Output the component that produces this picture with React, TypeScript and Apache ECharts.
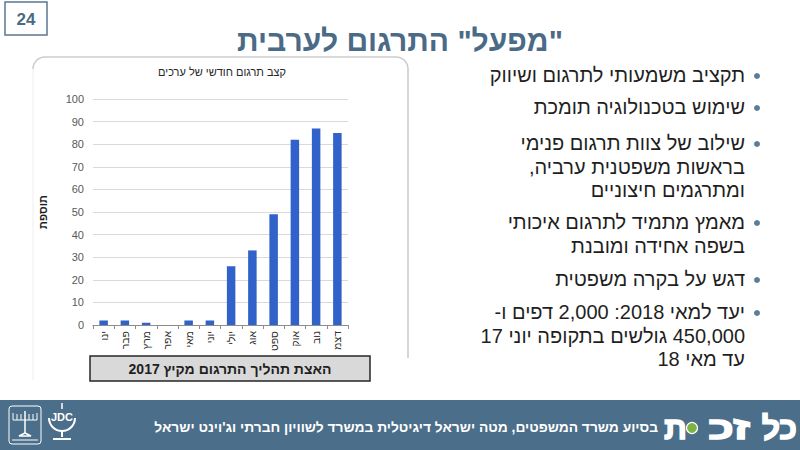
import React, { useEffect, useRef } from 'react';
import * as echarts from 'echarts';

const months = ['ינו', 'פבר', 'מרץ', 'אפר', 'מאי', 'יוני', 'יולי', 'אוג', 'ספט', 'אוק', 'נוב', 'דצמ'];
const translatedValues = [2, 2, 1, 0, 2, 2, 26, 33, 49, 82, 87, 85];
const yTicks = { min: 0, max: 100, interval: 10 };

const slideTitle = '"מפעל" התרגום לערבית';
const chartTitle = 'קצב תרגום חודשי של ערכים';
const yAxisName = 'תוספת';
const captionText = 'האצת תהליך התרגום מקיץ 2017';
const pageNumber = '24';
const bullets: string[][] = [
  ['תקציב משמעותי לתרגום ושיווק'],
  ['שימוש בטכנולוגיה תומכת'],
  ['שילוב של צוות תרגום פנימי', 'בראשות משפטנית ערביה,', 'ומתרגמים חיצוניים'],
  ['מאמץ מתמיד לתרגום איכותי', 'בשפה אחידה ומובנת'],
  ['דגש על בקרה משפטית'],
  ['יעד למאי 2018: 2,000 דפים ו-', '450,000 גולשים בתקופה יוני 17', 'עד מאי 18'],
];
const footerText = "בסיוע משרד המשפטים, מטה ישראל דיגיטלית במשרד לשוויון חברתי וג'וינט ישראל";
const logoWords = ['כל', 'זכ', 'ת'];

const FONT = "'Liberation Sans', Arial, sans-serif";
const SLATE = '#4a6a85';
const rtl = (s: string) => '\u202B' + s + '\u202C';

export default function App() {
  const ref = useRef<HTMLDivElement>(null);
  useEffect(() => {
    if (!ref.current) return;
    const chart = echarts.init(ref.current, undefined, { renderer: 'svg' });

    const bulletTops = [75, 107, 143, 222, 279, 312];
    const lineH = 23.5;
    const bulletGraphics: any[] = [];
    bullets.forEach((lines, i) => {
      bulletGraphics.push({
        type: 'circle',
        shape: { cx: 757, cy: bulletTops[i] + 1, r: 3 },
        style: { fill: '#5b7d99' },
      });
      lines.forEach((ln, j) => {
        bulletGraphics.push({
          type: 'text',
          x: 745,
          y: bulletTops[i] + j * lineH,
          style: {
            text: rtl(ln),
            align: 'right',
            verticalAlign: 'middle',
            fontSize: 20,
            fontFamily: FONT,
            fill: '#1f1f1f',
          },
        });
      });
    });

    const white = { fill: 'none', stroke: '#ffffff', lineWidth: 1 };
    const frame = { fill: 'none', stroke: '#cccccc', lineWidth: 1.6 };
    const logoStyle = {
      align: 'right',
      verticalAlign: 'middle',
      fontSize: 32,
      fontWeight: 'bold',
      fill: '#ffffff',
      stroke: '#ffffff',
      lineWidth: 1.4,
      fontFamily: FONT,
    };

    chart.setOption({
      animation: false,
      backgroundColor: '#ffffff',
      textStyle: { fontFamily: FONT },
      grid: { left: 93, top: 99, width: 255, height: 226, containLabel: false },
      xAxis: {
        type: 'category',
        data: months,
        axisLine: { lineStyle: { color: '#8c8c8c', width: 1 } },
        axisTick: { show: true, alignWithLabel: false, length: 4, lineStyle: { color: '#8c8c8c' } },
        axisLabel: { rotate: 90, fontSize: 10.5, color: '#333333', margin: 6, interval: 0, fontFamily: FONT },
      },
      yAxis: {
        type: 'value',
        min: yTicks.min,
        max: yTicks.max,
        interval: yTicks.interval,
        name: yAxisName,
        nameLocation: 'middle',
        nameRotate: 90,
        nameGap: 45,
        nameTextStyle: { fontSize: 11, fontWeight: 'bold', color: '#1f1f1f', fontFamily: FONT },
        axisLine: { show: false },
        axisTick: { show: false },
        axisLabel: { fontSize: 11, color: '#595959', margin: 9, fontFamily: FONT },
        splitLine: { lineStyle: { color: '#d9d9d9', width: 1 } },
      },
      series: [
        {
          type: 'bar',
          data: translatedValues,
          barWidth: '40%',
          itemStyle: { color: '#3162c9' },
        },
      ],
      graphic: [
        // chart frame (top and right edges, rounded corners)
        { type: 'line', shape: { x1: 45, y1: 57, x2: 396, y2: 57 }, style: frame },
        { type: 'arc', shape: { cx: 396, cy: 69, r: 12, startAngle: Math.PI * 1.5, endAngle: Math.PI * 2 }, style: frame },
        { type: 'line', shape: { x1: 408, y1: 69, x2: 408, y2: 358 }, style: frame },
        { type: 'arc', shape: { cx: 45, cy: 69, r: 12, startAngle: Math.PI, endAngle: Math.PI * 1.5 }, style: frame },
        { type: 'line', shape: { x1: 33, y1: 69, x2: 33, y2: 380 }, style: { fill: 'none', stroke: '#eeeeee', lineWidth: 1 } },
        // page number box
        {
          type: 'rect',
          shape: { x: 5, y: 2, width: 42, height: 33 },
          style: { fill: '#ffffff', stroke: '#5b7890', lineWidth: 1.5 },
        },
        {
          type: 'text',
          x: 26,
          y: 19,
          style: { text: pageNumber, align: 'center', verticalAlign: 'middle', fontSize: 17, fontWeight: 'bold', fill: SLATE, fontFamily: FONT },
        },
        // slide title
        {
          type: 'text',
          x: 400,
          y: 40,
          style: { text: rtl(slideTitle), align: 'center', verticalAlign: 'middle', fontSize: 30, fontWeight: 'bold', fill: SLATE, fontFamily: FONT },
        },
        // chart title
        {
          type: 'text',
          x: 222,
          y: 72,
          style: { text: rtl(chartTitle), align: 'center', verticalAlign: 'middle', fontSize: 11, fill: '#262626', fontFamily: FONT },
        },
        // caption box
        {
          type: 'rect',
          shape: { x: 90, y: 356, width: 280, height: 25 },
          style: { fill: '#d9d9d9', stroke: '#262626', lineWidth: 1.5 },
        },
        {
          type: 'text',
          x: 230,
          y: 368.5,
          style: { text: rtl(captionText), align: 'center', verticalAlign: 'middle', fontSize: 14, fontWeight: 'bold', fill: '#1f1f1f', fontFamily: FONT },
        },
        ...bulletGraphics,
        // footer band
        {
          type: 'rect',
          shape: { x: 0, y: 400, width: 800, height: 50 },
          style: { fill: '#4b6e8a' },
        },
        {
          type: 'text',
          x: 658,
          y: 427,
          style: { text: rtl(footerText), align: 'right', verticalAlign: 'middle', fontSize: 13.8, fontWeight: 'bold', fill: '#ffffff', fontFamily: FONT },
        },
        // "כל זכות" logo
        { type: 'text', x: 797, y: 428, style: { ...logoStyle, text: logoWords[0] } },
        { type: 'text', x: 750, y: 428, scaleX: 1.45, style: { ...logoStyle, text: logoWords[1] } },
        {
          type: 'circle',
          shape: { cx: 692, cy: 428, r: 5.5 },
          style: { fill: '#7cb342', stroke: '#ffffff', lineWidth: 1.2 },
        },
        { type: 'text', x: 687, y: 428, style: { ...logoStyle, text: logoWords[2] } },
        // state emblem (simplified)
        { type: 'rect', shape: { x: 9, y: 406, width: 32, height: 38, r: 3 }, style: white },
        { type: 'polyline', shape: { points: [[13, 413], [13, 420], [37, 420], [37, 413]] }, style: white },
        { type: 'polyline', shape: { points: [[17, 414], [17, 420]] }, style: white },
        { type: 'polyline', shape: { points: [[21, 414], [21, 420]] }, style: white },
        { type: 'polyline', shape: { points: [[29, 414], [29, 420]] }, style: white },
        { type: 'polyline', shape: { points: [[33, 414], [33, 420]] }, style: white },
        { type: 'polyline', shape: { points: [[25, 411], [25, 433], [19, 436], [31, 436], [25, 433]] }, style: { ...white, lineWidth: 1.5 } },
        { type: 'polyline', shape: { points: [[12, 440], [38, 440]] }, style: white },
        // JDC logo (simplified)
        {
          type: 'text',
          x: 62,
          y: 417,
          style: { text: 'JDC', align: 'center', verticalAlign: 'middle', fontSize: 11, fontWeight: 'bold', fill: '#ffffff', fontFamily: FONT },
        },
        { type: 'arc', shape: { cx: 62, cy: 418, r: 13, startAngle: 0, endAngle: Math.PI }, style: { ...white, lineWidth: 2 } },
        { type: 'polyline', shape: { points: [[62, 431], [62, 437]] }, style: { ...white, lineWidth: 2 } },
        { type: 'polyline', shape: { points: [[53, 439], [71, 439]] }, style: { ...white, lineWidth: 2 } },
        { type: 'polyline', shape: { points: [[62, 403], [62, 409]] }, style: { ...white, lineWidth: 1.5 } },
      ],
    });
    return () => chart.dispose();
  }, []);
  return <div ref={ref} style={{ position: 'fixed', left: 0, top: 0, width: 800, height: 450 }} />;
}
